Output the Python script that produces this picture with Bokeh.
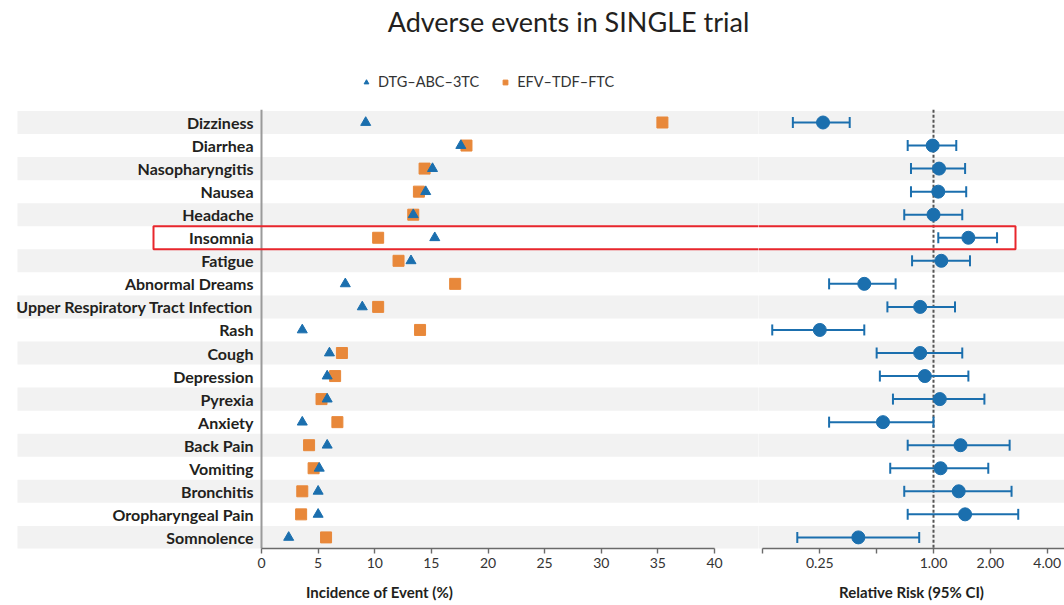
import math
from bokeh.plotting import figure
from bokeh.layouts import row
from bokeh.models import (Range1d, LinearAxis, FixedTicker, Legend, LegendItem,
                          Label)
from bokeh.core.properties import value
from bokeh.embed import file_html
from bokeh.resources import INLINE

# ---------------- data ----------------
categories = ["Dizziness", "Diarrhea", "Nasopharyngitis", "Nausea", "Headache",
              "Insomnia", "Fatigue", "Abnormal Dreams",
              "Upper Respiratory Tract Infection", "Rash", "Cough", "Depression",
              "Pyrexia", "Anxiety", "Back Pain", "Vomiting", "Bronchitis",
              "Oropharyngeal Pain", "Somnolence"]
dtg_abc_3tc = [9.2, 17.6, 15.1, 14.5, 13.4, 15.3, 13.2, 7.4, 8.9, 3.6,
               6.0, 5.8, 5.8, 3.6, 5.8, 5.1, 5.0, 5.0, 2.4]
efv_tdf_ftc = [35.4, 18.1, 14.4, 13.9, 13.4, 10.3, 12.1, 17.1, 10.3, 14.0,
               7.1, 6.5, 5.3, 6.7, 4.2, 4.6, 3.6, 3.5, 5.7]
relative_risk = [0.26, 0.99, 1.07, 1.06, 1.00, 1.53, 1.10, 0.43, 0.85, 0.25,
                 0.85, 0.90, 1.08, 0.54, 1.39, 1.09, 1.36, 1.47, 0.40]
rr_low = [0.18, 0.73, 0.76, 0.76, 0.70, 1.06, 0.77, 0.28, 0.57, 0.14,
          0.50, 0.52, 0.61, 0.28, 0.73, 0.59, 0.70, 0.73, 0.19]
rr_high = [0.36, 1.32, 1.47, 1.49, 1.42, 2.17, 1.56, 0.63, 1.30, 0.43,
           1.42, 1.53, 1.86, 1.00, 2.53, 1.95, 2.59, 2.81, 0.84]
pct_ticks = [0, 5, 10, 15, 20, 25, 30, 35, 40]
rr_ticks = [0.125, 0.25, 0.5, 1.0, 2.0, 4.0]
rr_tick_labels = ["", "0.25", "", "1.00", "2.00", "4.00"]
highlight = "Insomnia"
series_names = ["DTG–ABC–3TC", "EFV–TDF–FTC"]
title_text = "Adverse events in SINGLE trial"

# ---------------- style / layout ----------------
BLUE = "#1b6fae"
ORANGE = "#e8883a"
STRIPE = "#f2f2f2"
TEXT = "#231f20"
AXIS = "#6b6b6b"
RED = "#e8262c"
FONT = "Lato"

FRAME_H = 548
ROW_PX = 23.05
FIRST_ROW_PX = 122
LEFT_W = 758
RIGHT_W = 306
PCT_ZERO_PX = 261
PCT_PX = 11.325
RR_ONE_PX = 175
RR_PX = 56.85

n = len(categories)
ys = list(range(n))
y_top = (0 - FIRST_ROW_PX) / ROW_PX
y_bot = (FRAME_H - FIRST_ROW_PX) / ROW_PX
x0 = -PCT_ZERO_PX / PCT_PX
x1 = (LEFT_W - PCT_ZERO_PX) / PCT_PX
rr0 = 2 ** ((0 - RR_ONE_PX) / RR_PX)
rr1 = 2 ** ((RIGHT_W - RR_ONE_PX) / RR_PX)
stripe_left = (17 - PCT_ZERO_PX) / PCT_PX
label_x = (253 - PCT_ZERO_PX) / PCT_PX
box_left = (153 - PCT_ZERO_PX) / PCT_PX
box_right_rr = 2 ** ((1015 - LEFT_W - RR_ONE_PX) / RR_PX)
hi_idx = categories.index(highlight)
stripe_rows = ys[::2]


def style_axis(ax):
    ax.axis_line_color = AXIS
    ax.axis_line_width = 1.6
    ax.major_tick_line_color = AXIS
    ax.major_tick_line_width = 1.4
    ax.major_tick_out = 5
    ax.major_tick_in = 0
    ax.minor_tick_line_color = None
    ax.major_label_text_font = FONT
    ax.major_label_text_font_size = "14px"
    ax.major_label_text_color = "#333333"
    ax.major_label_standoff = 4
    ax.axis_label_text_font = FONT
    ax.axis_label_text_font_style = "bold"
    ax.axis_label_text_font_size = "15px"
    ax.axis_label_text_color = TEXT
    ax.axis_label_standoff = 12


# ---------------- left panel ----------------
yr = Range1d(y_bot, y_top)
left = figure(frame_width=LEFT_W, frame_height=FRAME_H,
              x_range=Range1d(x0, x1), y_range=yr,
              x_axis_type=None, y_axis_type=None,
              toolbar_location=None, output_backend="svg",
              min_border=0, outline_line_color=None)

left.quad(left=stripe_left, right=x1 + 10,
          top=[y - 0.5 for y in stripe_rows], bottom=[y + 0.5 for y in stripe_rows],
          fill_color=STRIPE, line_color=None)
left.segment(x0=0, y0=-0.55, x1=0, y1=y_bot, line_color="#9a9a9a", line_width=2)
left.text(x=[label_x] * n, y=ys, text=categories, text_align="right",
          text_baseline="middle", text_font=value(FONT), text_font_style="bold",
          text_font_size="16px", text_color=TEXT)
left.quad(left=box_left, right=x1 + 10, top=hi_idx - 0.5, bottom=hi_idx + 0.5,
          fill_color=None, line_color=RED, line_width=2)
r_efv = left.scatter(efv_tdf_ftc, ys, marker="square", size=11, color=ORANGE)
r_dtg = left.scatter(dtg_abc_3tc, ys, marker="triangle", size=10, color=BLUE)

ax1 = LinearAxis(bounds=(0, 40), ticker=FixedTicker(ticks=pct_ticks),
                 axis_label="Incidence of Event (%)")
style_axis(ax1)
left.add_layout(ax1, "below")

legend = Legend(items=[LegendItem(label=series_names[0], renderers=[r_dtg]),
                       LegendItem(label=series_names[1], renderers=[r_efv])],
                orientation="horizontal", location=(360, 458),
                padding=0, margin=0, spacing=20, glyph_width=12, glyph_height=12,
                label_standoff=6, label_text_font=FONT, label_text_font_size="14.5px",
                label_text_color="#333333", border_line_color=None,
                background_fill_alpha=0)
left.add_layout(legend)

left.add_layout(Label(x=568, y=FRAME_H - 21, x_units="screen", y_units="screen",
                      text=title_text, text_align="center", text_baseline="middle",
                      text_font=FONT, text_font_size="27px", text_color=TEXT))

# ---------------- right panel ----------------
right = figure(frame_width=RIGHT_W, frame_height=FRAME_H,
               x_range=Range1d(rr0, rr1), y_range=yr,
               x_axis_type="log", y_axis_type=None,
               toolbar_location=None, output_backend="svg",
               min_border=0, outline_line_color=None)
right.xgrid.grid_line_color = None

right.quad(left=rr0 / 10, right=rr1 * 10,
           top=[y - 0.5 for y in stripe_rows], bottom=[y + 0.5 for y in stripe_rows],
           fill_color=STRIPE, line_color=None)
right.segment(x0=1, y0=-0.55, x1=1, y1=y_bot, line_color="#555555",
              line_width=2, line_dash="3 2")
right.quad(left=rr0 / 10, right=box_right_rr, top=hi_idx - 0.5, bottom=hi_idx + 0.5,
           fill_color=None, line_color=RED, line_width=2)
right.segment(x0=rr_low, y0=ys, x1=rr_high, y1=ys, line_color=BLUE, line_width=2)
right.scatter(rr_low, ys, marker="dash", angle=math.pi / 2, size=11,
              line_color=BLUE, line_width=2)
right.scatter(rr_high, ys, marker="dash", angle=math.pi / 2, size=11,
              line_color=BLUE, line_width=2)
right.scatter(relative_risk, ys, marker="circle", size=13, color=BLUE)

ax2 = right.xaxis[0]
ax2.ticker = FixedTicker(ticks=rr_ticks)
ax2.bounds = (0.125, rr1)
ax2.major_label_overrides = {t: lab for t, lab in zip(rr_ticks, rr_tick_labels)}
ax2.axis_label = "Relative Risk (95% CI)"
style_axis(ax2)

layout = row(left, right)
open("out.html", "w").write(file_html(layout, INLINE))
